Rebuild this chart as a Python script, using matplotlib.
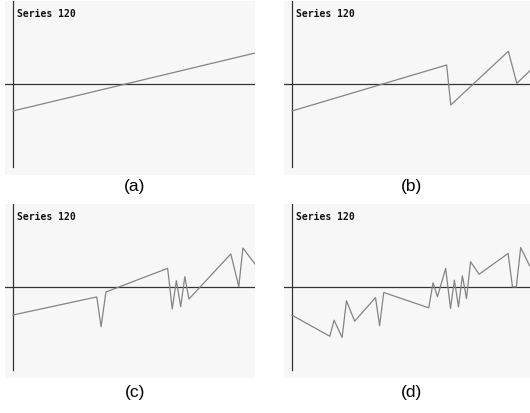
import matplotlib
matplotlib.use("Agg")
import matplotlib.pyplot as plt

# series values per panel (x in 0..100, y in axis units where 1 = top of panel)
xa = [0, 100]
ya = [-0.325, 0.373]

xb = [0, 63.9, 65.6, 89.4, 92.9, 98.3]
yb = [-0.325, 0.229, -0.253, 0.394, 0.008, 0.160]

xc = [0, 34.6, 36.4, 38.4, 63.9, 65.8, 67.5, 69.3, 71.0, 72.7, 90.0, 93.3, 95.0, 100]
yc = [-0.337, -0.120, -0.478, -0.060, 0.225, -0.265, 0.076, -0.237, 0.124, -0.145,
      0.398, 0.004, 0.470, 0.277]

xd = [0, 15.6, 17.4, 20.7, 22.5, 25.9, 34.5, 36.2, 37.9, 56.5, 58.3, 60.1, 63.5,
      65.5, 67.1, 68.8, 70.4, 72.1, 73.8, 77.3, 89.3, 91.1, 92.7, 94.5, 98.2]
yd = [-0.340, -0.593, -0.400, -0.608, -0.166, -0.412, -0.127, -0.467, -0.066,
      -0.251, 0.051, -0.118, 0.223, -0.259, 0.082, -0.239, 0.135, -0.139, 0.304,
      0.154, 0.404, 0.002, 0.002, 0.476, 0.255]

panel_labels = ["(a)", "(b)", "(c)", "(d)"]
series_title = "Series 120"

W, H = 530, 414
fig = plt.figure(figsize=(W / 100, H / 100), dpi=100)
fig.patch.set_facecolor("white")

# panel background boxes in pixels: left, top
boxes = [(5, 2), (284, 2), (5, 205), (284, 205)]
label_pos = [(135, 187), (412, 187), (135, 393), (412, 393)]
data = [(xa, ya), (xb, yb), (xc, yc), (xd, yd)]
bw, bh = 250, 174

for (left, top), (xs, ys), lab, (lx, ly) in zip(boxes, data, panel_labels, label_pos):
    ax = fig.add_axes([left / W, 1 - (top + bh) / H, bw / W, bh / H])
    ax.set_facecolor("#f7f7f7")
    ax.set_xlim(-8 / 2.42, 100)
    ax.set_ylim(-91 / 83, 1.0)
    for s in ax.spines.values():
        s.set_visible(False)
    ax.set_xticks([])
    ax.set_yticks([])
    ax.axhline(0, color="#333333", lw=0.9)
    ax.plot([0, 0], [-1.0, 1.0], color="#333333", lw=0.9)
    ax.plot(xs, ys, color="#848484", lw=0.9)
    ax.text(1.6, 0.92, series_title, family="DejaVu Sans Mono",
            fontsize=7, fontweight="bold", va="top", ha="left", color="#111111")
    fig.text(lx / W, 1 - ly / H, lab, ha="center", va="center",
             family="Liberation Sans", fontsize=12.5, color="black")

fig.savefig("out.png", dpi=100)
